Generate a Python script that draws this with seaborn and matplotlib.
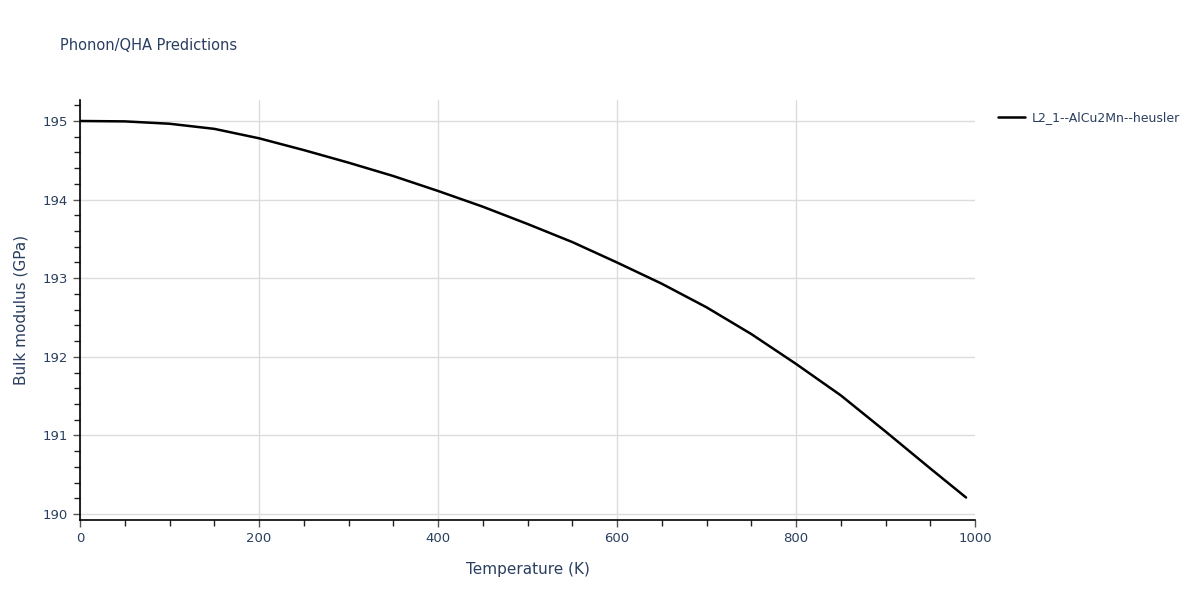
import pandas as pd
import numpy as np
import matplotlib
matplotlib.use("Agg")
import matplotlib.pyplot as plt
from matplotlib.ticker import MultipleLocator
import seaborn as sns

# data
temperature = [0, 50, 100, 150, 200, 250, 300, 350, 400, 450, 500,
               550, 600, 650, 700, 750, 800, 850, 900, 950, 990]
bulk_modulus = [195.00, 194.995, 194.965, 194.90, 194.78, 194.63, 194.47,
                194.30, 194.11, 193.91, 193.69, 193.46, 193.20, 192.93,
                192.63, 192.29, 191.91, 191.51, 191.05, 190.58, 190.21]
series_name = "L2_1--AlCu2Mn--heusler"

df = pd.DataFrame({"Temperature (K)": temperature,
                   "Bulk modulus (GPa)": bulk_modulus,
                   "material": series_name})

sns.set_style("white")
plt.rcParams["font.family"] = ["DejaVu Sans"]
txt = "#2a3f5f"

fig = plt.figure(figsize=(12, 6), dpi=100)
ax = fig.add_axes([80 / 1200, 80 / 600, 895 / 1200, 420 / 600])

sns.lineplot(data=df, x="Temperature (K)", y="Bulk modulus (GPa)",
             hue="material", palette=["black"], linewidth=1.8, ax=ax)

ax.set_xlim(0, 1000)
ax.set_ylim(189.924, 195.267)
ax.xaxis.set_major_locator(MultipleLocator(200))
ax.xaxis.set_minor_locator(MultipleLocator(50))
ax.yaxis.set_major_locator(MultipleLocator(1))
ax.yaxis.set_minor_locator(MultipleLocator(0.2))
ax.grid(True, which="major", color="#dcdcdc", linewidth=1)
ax.set_axisbelow(True)
# no grid line on the right edge
for tk in ax.xaxis.get_major_ticks():
    if tk.get_loc() >= 1000:
        tk.gridline.set_visible(False)

for s in ["top", "right"]:
    ax.spines[s].set_visible(False)
for s in ["left", "bottom"]:
    ax.spines[s].set_color("black")
    ax.spines[s].set_linewidth(1.2)

ax.tick_params(which="major", direction="out", length=5, width=1, pad=4,
               color="#555555", labelcolor=txt, labelsize=9.5, left=True, bottom=True)
ax.tick_params(which="minor", direction="out", length=4, width=1,
               color="#222222", left=True, bottom=True)

ax.set_xlabel("Temperature (K)", fontsize=11, color=txt, labelpad=12)
ax.set_ylabel("Bulk modulus (GPa)", fontsize=11, color=txt, labelpad=10)

fig.text(60 / 1200, 1 - 45 / 600, "Phonon/QHA Predictions", fontsize=10.5,
         color=txt, va="center", ha="left")

leg = ax.legend(loc="upper left", bbox_to_anchor=(1.02, 0.985), frameon=False,
                fontsize=9, handlelength=2.2, handletextpad=0.5, borderaxespad=0)
for t in leg.get_texts():
    t.set_color(txt)

fig.savefig("out.png", dpi=100)
